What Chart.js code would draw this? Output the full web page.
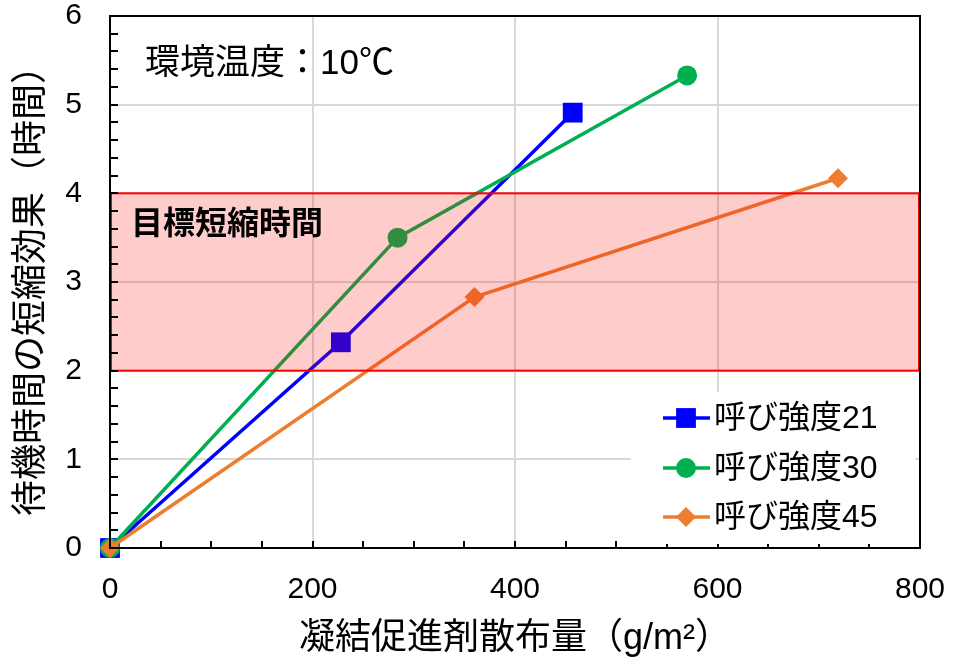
<!DOCTYPE html>
<html>
<head>
<meta charset="utf-8">
<script src="https://cdn.jsdelivr.net/npm/chart.js@4.4.1/dist/chart.umd.min.js"></script>
<style>
  html, body { margin: 0; padding: 0; background: #fff; }
  #wrap { width: 968px; height: 665px; }
</style>
</head>
<body>
<div id="wrap"><canvas id="effectChart" width="968" height="665"></canvas></div>
<script>
// 散布量 (g/m²) と 待機時間の短縮効果 (時間)
const seriesNames = ['呼び強度21', '呼び強度30', '呼び強度45'];
const amount21 = [0, 228, 457];
const effect21 = [0, 2.32, 4.91];
const amount30 = [0, 284, 570];
const effect30 = [0, 3.50, 5.33];
const amount45 = [0, 360, 719];
const effect45 = [0, 2.83, 4.17];
const targetRange = [2, 4];           // 目標短縮時間
const xTickValues = [0, 200, 400, 600, 800];
const yTickValues = [0, 1, 2, 3, 4, 5, 6];

const FONT = "'Liberation Sans', Arial, 'Noto Sans CJK JP', sans-serif";

function toPoints(xs, ys) {
    return xs.map((x, i) => ({ x: x, y: ys[i] }));
}

const seriesStyles = [
    { color: '#0000FF', point: 'rect', radius: 14 },
    { color: '#00B050', point: 'circle', radius: 10 },
    { color: '#ED7D31', point: 'rectRot', radius: 10 }
];

const datasets = [
    { label: seriesNames[0], data: toPoints(amount21, effect21), order: 2 },
    { label: seriesNames[1], data: toPoints(amount30, effect30), order: 1 },
    { label: seriesNames[2], data: toPoints(amount45, effect45), order: 0 }
].map((ds, i) => Object.assign(ds, {
    showLine: true,
    clip: false,
    borderColor: seriesStyles[i].color,
    backgroundColor: seriesStyles[i].color,
    pointBackgroundColor: seriesStyles[i].color,
    pointBorderColor: seriesStyles[i].color,
    pointBorderWidth: 0,
    pointStyle: seriesStyles[i].point,
    pointRadius: seriesStyles[i].radius,
    borderWidth: 3.5,
    tension: 0
}));

// 目標帯・枠・内向き目盛・注記・凡例
const overlayPlugin = {
    id: 'overlay',
    afterDatasetsDraw(chart) {
        const { ctx, chartArea: a, scales: { x, y } } = chart;
        ctx.save();

        // 目標短縮時間の帯
        const yTop = y.getPixelForValue(targetRange[1]);
        const yBot = y.getPixelForValue(targetRange[0]);
        ctx.fillStyle = 'rgba(255, 0, 0, 0.2)';
        ctx.fillRect(a.left, yTop, a.right - a.left, yBot - yTop);
        ctx.strokeStyle = '#FF0000';
        ctx.lineWidth = 2;
        ctx.strokeRect(a.left + 1, yTop, a.right - a.left - 2, yBot - yTop);

        // 内向きの補助目盛
        ctx.strokeStyle = '#000';
        ctx.lineWidth = 2;
        ctx.beginPath();
        for (let v = 0; v <= 6.0001; v += 0.2) {
            const py = Math.round(y.getPixelForValue(v));
            ctx.moveTo(a.left, py);
            ctx.lineTo(a.left + 8, py);
        }
        for (let v = 0; v <= 800; v += 50) {
            const px = Math.round(x.getPixelForValue(v));
            ctx.moveTo(px, a.bottom);
            ctx.lineTo(px, a.bottom - 7);
        }
        ctx.stroke();

        // 枠
        ctx.strokeRect(a.left, a.top, a.right - a.left, a.bottom - a.top);

        // 注記
        ctx.fillStyle = '#000';
        ctx.textBaseline = 'middle';
        ctx.textAlign = 'left';
        ctx.font = '35px ' + FONT;
        ctx.fillText('環境温度：10℃', 145, 64);
        ctx.font = 'bold 32px ' + FONT;
        ctx.fillText('目標短縮時間', 131, 225);

        // 凡例
        ctx.fillStyle = '#fff';
        ctx.fillRect(631, 392, 284, 152);
        const rows = [418, 468, 517];
        chart.data.datasets.forEach((ds, i) => {
            const ly = rows[i];
            ctx.strokeStyle = ds.borderColor;
            ctx.lineWidth = 3.5;
            ctx.beginPath();
            ctx.moveTo(663, ly);
            ctx.lineTo(710, ly);
            ctx.stroke();
            ctx.fillStyle = ds.borderColor;
            Chart.helpers.drawPoint(ctx, { pointStyle: ds.pointStyle, radius: ds.pointRadius, borderWidth: 0 }, 686, ly);
            ctx.fillStyle = '#000';
            ctx.font = '32px ' + FONT;
            ctx.textAlign = 'left';
            ctx.fillText(ds.label, 714, ly + 1);
        });

        ctx.restore();
    }
};

new Chart(document.getElementById('effectChart').getContext('2d'), {
    type: 'scatter',
    data: { datasets: datasets },
    plugins: [overlayPlugin],
    options: {
        responsive: false,
        animation: false,
        devicePixelRatio: 1,
        layout: { padding: { top: 16, right: 48, left: 0, bottom: 0 } },
        plugins: { legend: { display: false }, tooltip: { enabled: false } },
        scales: {
            x: {
                type: 'linear', min: 0, max: 800,
                afterFit: s => { s.height = 117; s.paddingLeft = 0; s.paddingRight = 0; },
                afterBuildTicks: s => { s.ticks = xTickValues.map(v => ({ value: v })); },
                grid: { color: '#D9D9D9', lineWidth: 2, drawTicks: false },
                border: { display: true, color: '#000', width: 2 },
                ticks: { color: '#000', font: { family: FONT, size: 30 }, padding: 24, maxRotation: 0 },
                title: {
                    display: true, text: '凝結促進剤散布量（g/m²）', color: '#000',
                    font: { family: FONT, size: 36 }, padding: { top: 0, bottom: 4 }
                }
            },
            y: {
                type: 'linear', min: 0, max: 6,
                afterFit: s => { s.width = 110; s.paddingTop = 0; s.paddingBottom = 0; },
                afterBuildTicks: s => { s.ticks = yTickValues.map(v => ({ value: v })); },
                grid: { color: '#D9D9D9', lineWidth: 2, drawTicks: false },
                border: { display: true, color: '#000', width: 2 },
                ticks: { color: '#000', font: { family: FONT, size: 30, lineHeight: 1 }, padding: 28 },
                title: {
                    display: true, text: '待機時間の短縮効果（時間）', color: '#000',
                    font: { family: FONT, size: 36 }, padding: { top: 10, bottom: 0 }
                }
            }
        }
    }
});
</script>
</body>
</html>
